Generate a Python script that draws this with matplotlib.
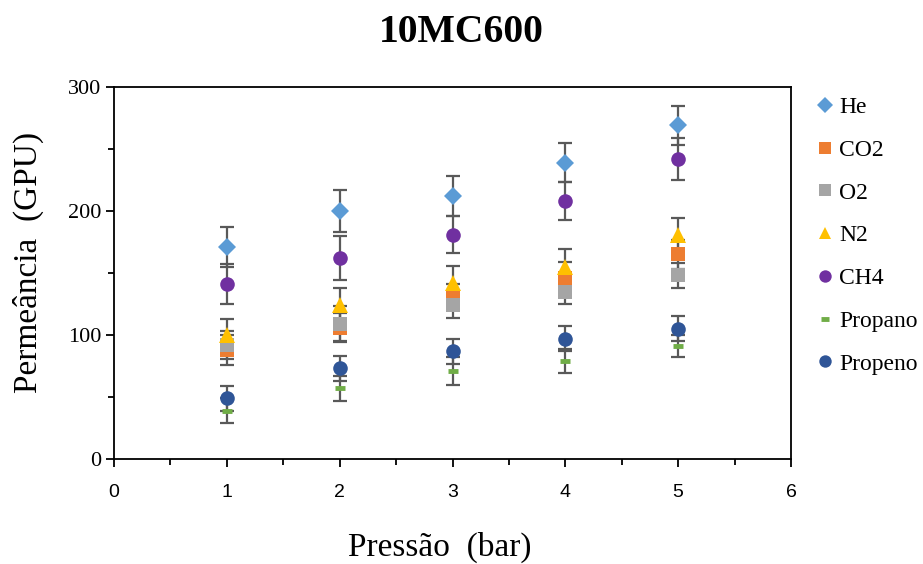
import matplotlib
matplotlib.use("Agg")
import matplotlib.pyplot as plt
from matplotlib.lines import Line2D
from matplotlib.ticker import MultipleLocator

# Pressure (bar) and permeance (GPU) with standard deviations
pressao = [1, 2, 3, 4, 5]

he = [171, 200, 212, 239, 269]
he_err = [16, 17, 16, 16, 16]
co2 = [88, 106, 131, 146, 165]
co2_err = [12, 12, 10, 13, 12]
o2 = [92, 109, 124, 135, 148]
o2_err = [11, 14, 10, 10, 10]
n2 = [100, 124, 142, 155, 181]
n2_err = [13, 14, 14, 14, 13]
ch4 = [141, 162, 181, 208, 242]
ch4_err = [16, 18, 15, 15, 17]
propano = [39, 57, 71, 79, 91]
propano_err = [10, 10, 11, 10, 9]
propeno = [49, 73, 87, 97, 105]
propeno_err = [10, 10, 10, 10, 10]

series_names = ["He", "CO2", "O2", "N2", "CH4", "Propano", "Propeno"]

series = [
    (he, he_err, dict(marker="D", color="#5B9BD5", ms=9)),
    (co2, co2_err, dict(marker="s", color="#ED7D31", ms=10)),
    (o2, o2_err, dict(marker="s", color="#A5A5A5", ms=10)),
    (n2, n2_err, dict(marker="^", color="#FFC000", ms=11)),
    (ch4, ch4_err, dict(marker="o", color="#7030A0", ms=10.5)),
    (propano, propano_err, dict(marker="_", color="#70AD47", ms=7, mew=3.5)),
    (propeno, propeno_err, dict(marker="o", color="#2F5597", ms=10.5)),
]

serif = "Liberation Serif"
W, H = 923, 564
fig = plt.figure(figsize=(W / 100, H / 100), dpi=100)
ax = fig.add_axes([114 / W, 105 / H, 677 / W, 372 / H])

handles = []
for (vals, errs, st), name in zip(series, series_names):
    mew = st.get("mew", 0)
    ax.errorbar(pressao, vals, yerr=errs, fmt="none", ecolor="#595959",
                elinewidth=1.6, capsize=4.8, capthick=1.6, zorder=2)
    ax.plot(pressao, vals, linestyle="none", marker=st["marker"],
            color=st["color"], markersize=st["ms"], markeredgewidth=mew,
            markeredgecolor=st["color"], zorder=3)
    handles.append(Line2D([], [], linestyle="none", marker=st["marker"],
                          color=st["color"], markersize=st["ms"] * 0.85,
                          markeredgewidth=mew, markeredgecolor=st["color"],
                          label=name))

ax.set_xlim(0, 6)
ax.set_ylim(0, 300)
ax.xaxis.set_major_locator(MultipleLocator(1))
ax.xaxis.set_minor_locator(MultipleLocator(0.5))
ax.yaxis.set_major_locator(MultipleLocator(100))
ax.yaxis.set_minor_locator(MultipleLocator(50))

for sp in ax.spines.values():
    sp.set_linewidth(1.3)
    sp.set_color("black")

ax.tick_params(axis="both", which="major", direction="out", length=6, width=1.3)
ax.tick_params(axis="both", which="minor", direction="out", length=4, width=1.3)
ax.tick_params(axis="x", which="major", pad=12)
ax.tick_params(axis="y", which="major", pad=3)

for lab in ax.get_yticklabels():
    lab.set_fontfamily(serif)
    lab.set_fontsize(16)
for lab in ax.get_xticklabels():
    lab.set_fontfamily("Liberation Sans")
    lab.set_fontsize(14)

fig.text(0.5, 1 - 32 / H, "10MC600", ha="center", va="center",
         fontfamily=serif, fontsize=28.5, fontweight="bold")
fig.text(440 / W, 1 - 547 / H, "Pressão  (bar)", ha="center", va="center",
         fontfamily=serif, fontsize=24)
fig.text(28 / W, 1 - 262 / H, "Permeância  (GPU)", ha="center", va="center",
         rotation=90, fontfamily=serif, fontsize=24)

fig.legend(handles=handles, loc="upper left",
           bbox_to_anchor=(800 / W, 1 - 80 / H), frameon=False,
           prop={"family": serif, "size": 17}, handlelength=0.75,
           handletextpad=0.2, labelspacing=0.9, borderpad=0.2)

fig.savefig("out.png", dpi=100)
